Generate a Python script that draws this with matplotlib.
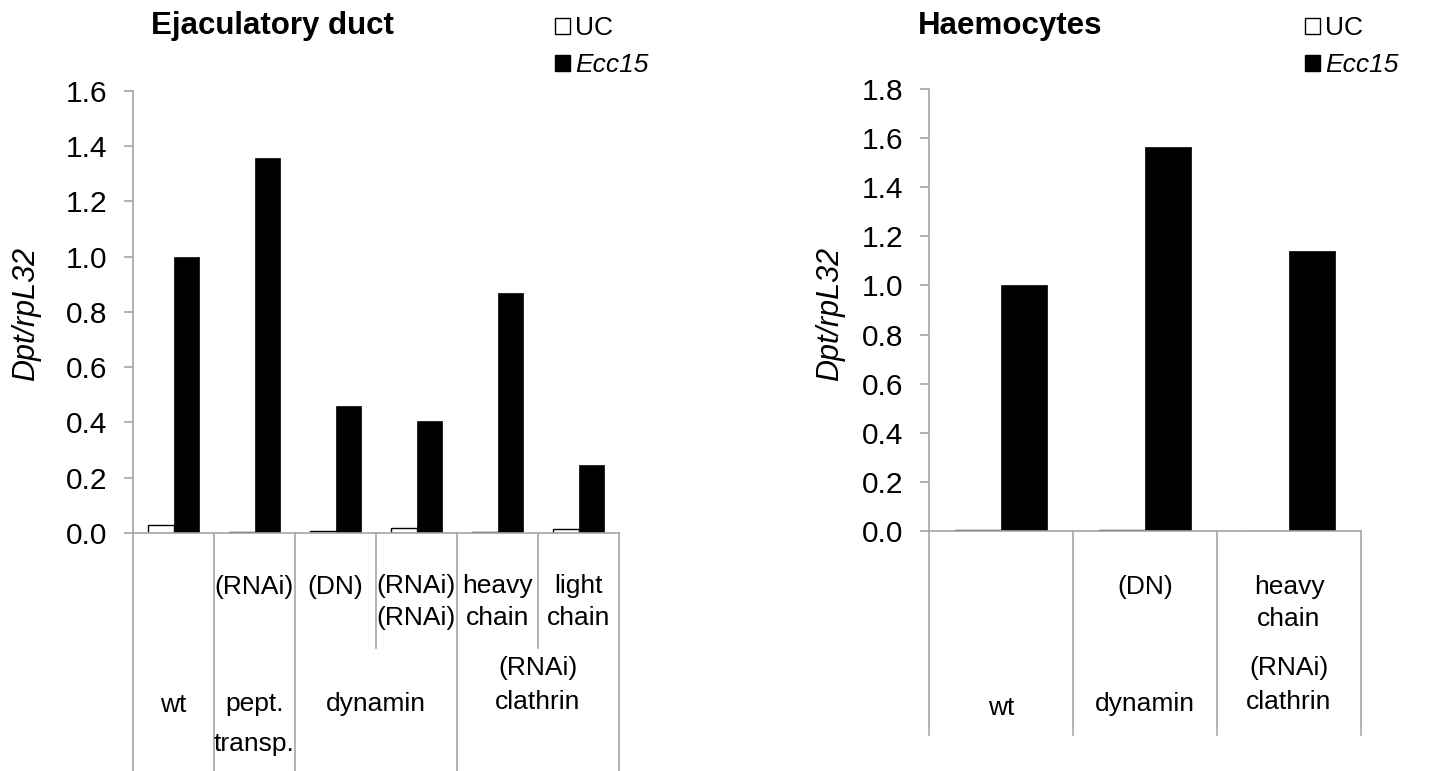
import matplotlib
matplotlib.use("Agg")
import matplotlib.pyplot as plt
from matplotlib.patches import Patch
from matplotlib.lines import Line2D
from matplotlib.transforms import blended_transform_factory

plt.rcParams['font.family'] = ['Liberation Sans', 'DejaVu Sans']

# --- Data ---
left_title = "Ejaculatory duct"
left_sublabels = ["", "(RNAi)", "(DN)", "(RNAi)\n(RNAi)", "heavy\nchain", "light\nchain"]
left_groups = ["wt", "pept.\ntransp.", "dynamin", "(RNAi)\nclathrin"]
left_group_spans = [1, 1, 2, 2]
left_uc = [0.028, 0.005, 0.006, 0.019, 0.002, 0.015]
left_ecc15 = [1.00, 1.355, 0.46, 0.405, 0.868, 0.246]
left_yticks = [0.0, 0.2, 0.4, 0.6, 0.8, 1.0, 1.2, 1.4, 1.6]

right_title = "Haemocytes"
right_sublabels = ["", "(DN)", "heavy\nchain"]
right_groups = ["wt", "dynamin", "(RNAi)\nclathrin"]
right_group_spans = [1, 1, 1]
right_uc = [0.003, 0.003, 0.002]
right_ecc15 = [1.00, 1.563, 1.139]
right_yticks = [0.0, 0.2, 0.4, 0.6, 0.8, 1.0, 1.2, 1.4, 1.6, 1.8]

series_names = ["UC", "Ecc15"]

# --- Layout (pixels) ---
W, H = 1442, 771
grey = "#a6a6a6"
label_size = 19
fig = plt.figure(figsize=(W / 100, H / 100), dpi=100)


def fy(px):
    return 1 - px / H


def make_panel(x0, x1, y_top, y_zero, title, title_x, legend_x, ylabel_x,
               sublabels, groups, spans, uc, ecc, yticks,
               sub_y, group_y, group_ls, inner_end, outer_end):
    ax = fig.add_axes([x0 / W, fy(y_zero), (x1 - x0) / W, (y_zero - y_top) / H])
    n = len(uc)
    bw = 0.32
    xs = [i + 0.5 for i in range(n)]
    ax.bar([x - bw / 2 for x in xs], uc, width=bw, color="white", edgecolor="black", linewidth=1.0)
    ax.bar([x + bw / 2 for x in xs], ecc, width=bw, color="black", edgecolor="black", linewidth=0.5)
    ax.set_xlim(0, n)
    ax.set_ylim(yticks[0], yticks[-1])
    ax.set_yticks(yticks)
    ax.set_yticklabels([f"{t:.1f}" for t in yticks], fontsize=21.5)
    ax.set_xticks([])
    for s in ["top", "right"]:
        ax.spines[s].set_visible(False)
    for s in ["left", "bottom"]:
        ax.spines[s].set_color(grey)
        ax.spines[s].set_linewidth(1.2)
    ax.tick_params(axis="y", direction="out", length=6.5, width=1.2, color=grey, pad=12)

    tr = blended_transform_factory(ax.transData, fig.transFigure)

    # category separators
    bounds = [0]
    for sp in spans:
        bounds.append(bounds[-1] + sp)
    for b in range(n + 1):
        end = outer_end if b in bounds else inner_end
        fig.add_artist(Line2D([b, b], [fy(y_zero), fy(end)], transform=tr,
                              color=grey, linewidth=1.2))

    # inner category labels
    for i, lab in enumerate(sublabels):
        if lab:
            fig.text(xs[i], fy(sub_y[i]), lab, transform=tr, ha="center", va="center",
                     fontsize=label_size, linespacing=1.4)
    # outer group labels
    for g, lab in enumerate(groups):
        cx = (bounds[g] + bounds[g + 1]) / 2
        fig.text(cx, fy(group_y[g]), lab, transform=tr, ha="center", va="center",
                 fontsize=label_size, linespacing=group_ls[g])

    fig.text(title_x / W, fy(26), title, ha="center", va="center",
             fontsize=22.5, fontweight="bold")
    fig.text(ylabel_x / W, fy(314), "Dpt/rpL32", rotation=90, ha="center", va="center",
             fontsize=22, fontstyle="italic")

    handles = [Patch(facecolor="white", edgecolor="black", linewidth=1.0),
               Patch(facecolor="black", edgecolor="black")]
    leg = ax.legend(handles, series_names, loc="upper left",
                    bbox_to_anchor=(legend_x / W, fy(16)), bbox_transform=fig.transFigure,
                    frameon=False, fontsize=19, handlelength=0.55, handleheight=0.55,
                    handletextpad=0.2, labelspacing=0.5, borderpad=0, borderaxespad=0)
    leg.get_texts()[1].set_fontstyle("italic")
    return ax


make_panel(133, 619, 90.7, 533, left_title, 272, 555, 26,
           left_sublabels, left_groups, left_group_spans, left_uc, left_ecc15, left_yticks,
           sub_y=[0, 587, 587, 602, 602, 602], group_y=[705, 724, 704, 685],
           group_ls=[1.2, 1.85, 1.2, 1.5], inner_end=648, outer_end=771)

make_panel(929, 1361, 89, 531, right_title, 1010, 1305, 830,
           right_sublabels, right_groups, right_group_spans, right_uc, right_ecc15, right_yticks,
           sub_y=[0, 587, 603], group_y=[708, 704, 685],
           group_ls=[1.2, 1.2, 1.5], inner_end=735, outer_end=735)

fig.savefig("out.png", dpi=100)
